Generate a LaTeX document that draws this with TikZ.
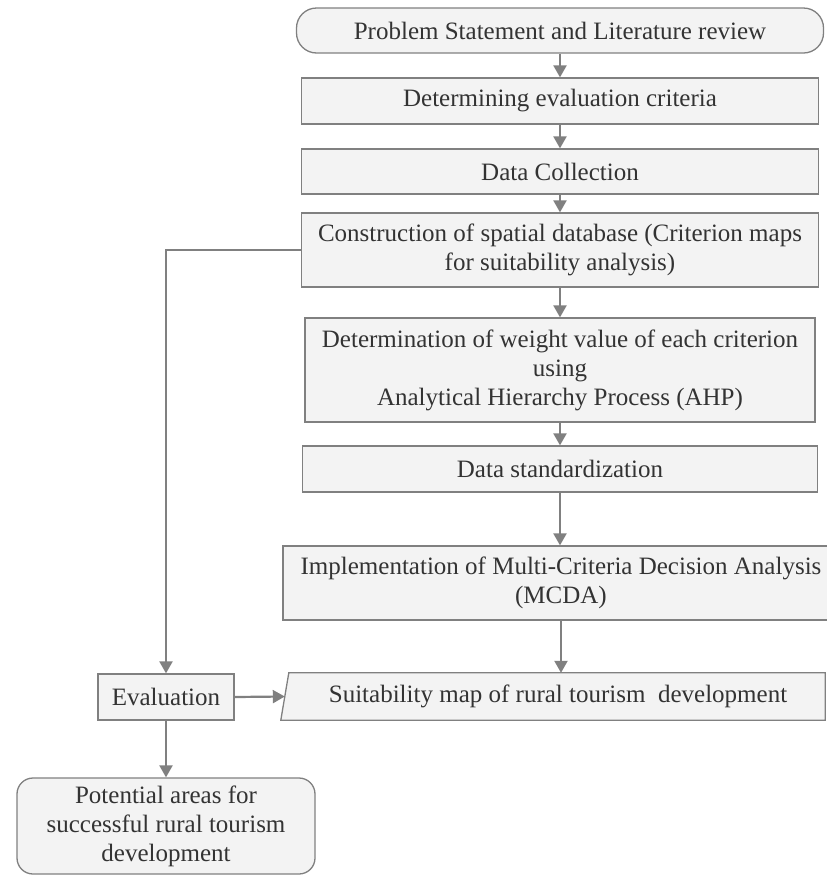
\documentclass[tikz,border=0pt]{standalone}
\usepackage{fontspec}
\setmainfont{Liberation Serif}
\usetikzlibrary{arrows.meta}
\definecolor{boxfill}{HTML}{F3F3F3}
\definecolor{edgegray}{HTML}{808080}
\definecolor{txt}{HTML}{333333}
\begin{document}
\begin{tikzpicture}[x=1pt,y=-1pt,
  every node/.style={font=\fontsize{25}{29}\selectfont, text=txt},
  box/.style={draw=edgegray, fill=boxfill, line width=1.3pt, align=center, inner sep=0pt},
  conn/.style={draw=edgegray, line width=2.2pt, -{Triangle[width=13pt,length=12pt]}}]
\useasboundingbox (0,0) rectangle (827,876);
\clip (0,0) rectangle (827,876);

\node[box, rounded corners=20pt, minimum width=527, minimum height=45] (b1) at (560,30.5) {Problem Statement and Literature review};
\node[box, minimum width=517, minimum height=46] (b2) at (560,101) {Determining evaluation criteria};
\node[box, minimum width=517, minimum height=45] (b3) at (560,171.5) {Data Collection};
\node[box, minimum width=517, minimum height=74] (b4) at (560,250) {Construction of spatial database (Criterion maps\\for suitability analysis)};
\node[box, minimum width=510, minimum height=104] (b5) at (560,370) {Determination of weight value of each criterion\\using\\Analytical Hierarchy Process (AHP)};
\node[box, minimum width=515, minimum height=46] (b6) at (560,469) {Data standardization};
\node[box, minimum width=556, minimum height=74] (b7) at (561,583) {Implementation of Multi-Criteria Decision Analysis\\(MCDA)};

\node[inner sep=0pt, minimum width=544, minimum height=47] (suit) at (553,696.5) {};
\filldraw[draw=edgegray, fill=boxfill, line width=1.3pt]
  (suit.south west) -- ([xshift=8pt]suit.north west) -- (suit.north east) -- (suit.south east) -- cycle;
\node (suittxt) at ([xshift=5pt]suit.center) {Suitability map of rural tourism\ \ development};

\node[box, minimum width=136, minimum height=46] (eval) at (166,697) {Evaluation};
\node[box, rounded corners=16pt, minimum width=298, minimum height=96] (pot) at (166,826) {Potential areas for\\successful rural tourism\\development};

\draw[conn] (b1.south) -- (b2.north);
\draw[conn] (b2.south) -- (b3.north);
\draw[conn] (b3.south) -- (b4.north);
\draw[conn] (b4.south) -- (b5.north);
\draw[conn] (b5.south) -- (b6.north);
\draw[conn] (b6.south) -- (b6.south |- b7.north);
\draw[conn] (b7.south) -- (b7.south |- suit.north);
\draw[conn] (b4.west) -| (eval.north);
\draw[conn] (eval.east) -- ([xshift=4pt]suit.west);
\draw[conn] (eval.south) -- (pot.north);
\end{tikzpicture}
\end{document}
